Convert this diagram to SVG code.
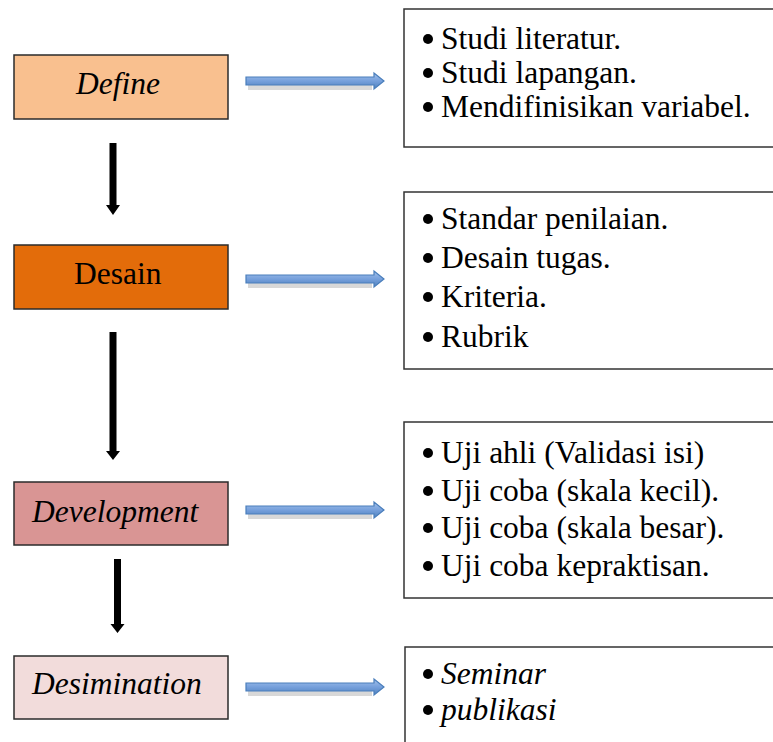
<svg xmlns="http://www.w3.org/2000/svg" width="773" height="742" viewBox="0 0 773 742">
<style>
.node{stroke:#2b2b2b;stroke-width:1.5}
.box{fill:#fff;stroke:#333;stroke-width:1.5}
</style>
<defs>
<linearGradient id="bg" x1="0" y1="0" x2="0" y2="1">
<stop offset="0" stop-color="#A3C1EA"/>
<stop offset="0.5" stop-color="#76A0DC"/>
<stop offset="1" stop-color="#4F81BD"/>
</linearGradient>
</defs>
<g id="define">
<rect class="node" x="14" y="55" width="214" height="64" fill="#F9C08F"/>
<text x="76" y="94" font-family="Times New Roman, Liberation Serif, serif" font-size="31.5" font-style="italic">Define</text>
</g>
<g id="desain">
<rect class="node" x="14" y="245" width="214" height="64" fill="#E36C0A"/>
<text x="74" y="284" font-family="Times New Roman, Liberation Serif, serif" font-size="31.5">Desain</text>
</g>
<g id="development">
<rect class="node" x="14" y="482" width="214" height="63" fill="#D99594"/>
<text x="32" y="522" font-family="Times New Roman, Liberation Serif, serif" font-size="31.5" font-style="italic">Development</text>
</g>
<g id="desimination">
<rect class="node" x="14" y="656" width="214" height="63" fill="#F2DCDB"/>
<text x="32" y="694" font-family="Times New Roman, Liberation Serif, serif" font-size="31.5" font-style="italic">Desimination</text>
</g>
<g id="box-define">
<rect class="box" x="404" y="9" width="380" height="138"/>
<circle cx="428" cy="39" r="5"/><text x="441" y="49" font-family="Times New Roman, Liberation Serif, serif" font-size="31.5">Studi literatur.</text>
<circle cx="428" cy="73" r="5"/><text x="441" y="83" font-family="Times New Roman, Liberation Serif, serif" font-size="31.5">Studi lapangan.</text>
<circle cx="428" cy="107" r="5"/><text x="441" y="117" font-family="Times New Roman, Liberation Serif, serif" font-size="31.5">Mendifinisikan variabel.</text>
</g>
<g id="box-desain">
<rect class="box" x="404" y="192" width="380" height="177"/>
<circle cx="428" cy="219" r="5"/><text x="441" y="229" font-family="Times New Roman, Liberation Serif, serif" font-size="31.5">Standar penilaian.</text>
<circle cx="428" cy="258" r="5"/><text x="441" y="268" font-family="Times New Roman, Liberation Serif, serif" font-size="31.5">Desain tugas.</text>
<circle cx="428" cy="297" r="5"/><text x="441" y="307" font-family="Times New Roman, Liberation Serif, serif" font-size="31.5">Kriteria.</text>
<circle cx="428" cy="337" r="5"/><text x="441" y="347" font-family="Times New Roman, Liberation Serif, serif" font-size="31.5">Rubrik</text>
</g>
<g id="box-development">
<rect class="box" x="404" y="422" width="380" height="176"/>
<circle cx="428" cy="453" r="5"/><text x="441" y="463" font-family="Times New Roman, Liberation Serif, serif" font-size="31.5">Uji ahli (Validasi isi)</text>
<circle cx="428" cy="491" r="5"/><text x="441" y="501" font-family="Times New Roman, Liberation Serif, serif" font-size="31.5">Uji coba (skala kecil).</text>
<circle cx="428" cy="528" r="5"/><text x="441" y="538" font-family="Times New Roman, Liberation Serif, serif" font-size="31.5">Uji coba (skala besar).</text>
<circle cx="428" cy="566" r="5"/><text x="441" y="576" font-family="Times New Roman, Liberation Serif, serif" font-size="31.5">Uji coba kepraktisan.</text>
</g>
<g id="box-desimination">
<rect class="box" x="405" y="647" width="380" height="110"/>
<circle cx="428" cy="674" r="5"/><text x="441" y="684" font-family="Times New Roman, Liberation Serif, serif" font-size="31.5" font-style="italic">Seminar</text>
<circle cx="428" cy="710" r="5"/><text x="441" y="720" font-family="Times New Roman, Liberation Serif, serif" font-size="31.5" font-style="italic">publikasi</text>
</g>
<g id="connectors">
<g fill="#000" opacity="0.15">
<path d="M248,81 H372 V90 H248 Z"/>
<path d="M248,279 H372 V288 H248 Z"/>
<path d="M248,510 H372 V519 H248 Z"/>
<path d="M248,687 H372 V696 H248 Z"/>
</g>
<g fill="url(#bg)" stroke="#4A7EBB" stroke-width="1.2">
<path d="M246,77 H374 V73 L384,81 L374,89 V85 H246 Z"/>
<path d="M246,275 H374 V271 L384,279 L374,287 V283 H246 Z"/>
<path d="M246,506 H374 V502 L384,510 L374,518 V514 H246 Z"/>
<path d="M246,683 H374 V679 L384,687 L374,695 V691 H246 Z"/>
</g>
<g fill="#000">
<path d="M109.5,143 H116.5 V205 H120 L113,215 L106,205 H109.5 Z"/>
<path d="M109.5,332 H116.5 V451 H120 L113,460 L106,451 H109.5 Z"/>
<path d="M114,559 H121 V624 H124.5 L117.5,633 L110.5,624 H114 Z"/>
</g>
</g>
</svg>
